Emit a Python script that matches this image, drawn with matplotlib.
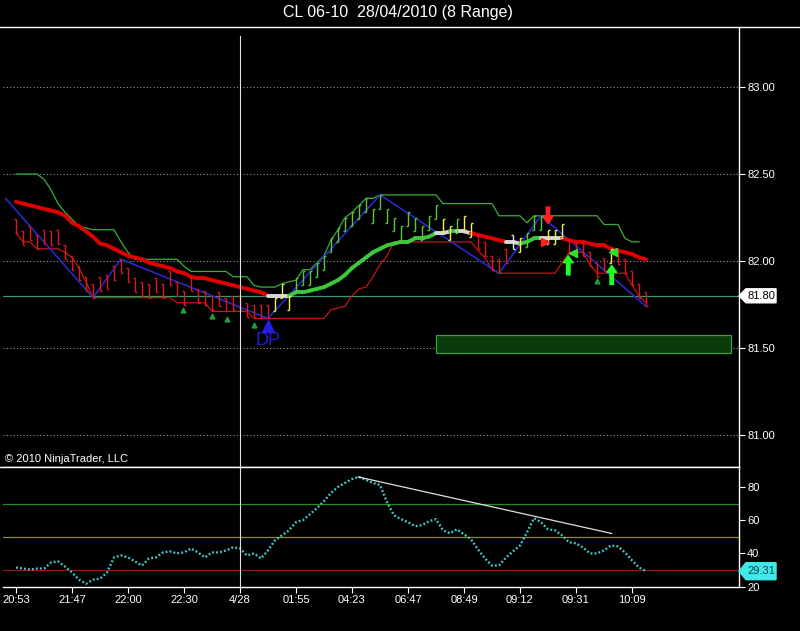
import numpy as np
import matplotlib
matplotlib.use("Agg")
import matplotlib.pyplot as plt
import matplotlib.transforms as mtrans
from matplotlib.collections import LineCollection
from matplotlib.patches import Polygon, Rectangle
from matplotlib.lines import Line2D

plt.rcParams['font.family'] = ['Liberation Sans', 'DejaVu Sans']

title = "CL 06-10  28/04/2010 (8 Range)"
bar_range = 0.08  # 8 tick range bars

# bar highs, low = high - range
bar_highs = [82.24, 82.17, 82.20, 82.15, 82.18, 82.17, 82.18, 82.09, 82.03, 81.97,
             81.91, 81.87, 81.91, 81.92, 81.97, 82.01, 81.96, 81.90, 81.88, 81.87,
             81.90, 81.87, 81.94, 81.88, 81.83, 81.91, 81.84, 81.83, 81.80, 81.82,
             81.79, 81.80, 81.80, 81.76, 81.75, 81.75, 81.75, 81.79, 81.87, 81.80,
             81.90, 81.94, 81.94, 81.99, 82.03, 82.13, 82.19, 82.25, 82.28, 82.32,
             82.36, 82.30, 82.38, 82.30, 82.25, 82.20, 82.28, 82.25, 82.20, 82.26,
             82.32, 82.24, 82.20, 82.24, 82.26, 82.22, 82.15, 82.11, 82.03, 82.01,
             82.07, 82.15, 82.13, 82.16, 82.26, 82.26, 82.18, 82.18, 82.21, 82.12,
             82.11, 82.11, 82.05, 81.99, 82.02, 82.07, 82.06, 82.01, 81.94, 81.87,
             81.82]
bar_colors = "r" * 37 + "yyy" + "g" * 21 + "yygyy" + "rrrrr" + "wy" + "ggg" + "yyy" + "r" * 6 + "y" + "r" * 5

ma_values = [82.34, 82.33, 82.32, 82.31, 82.30, 82.29, 82.28, 82.26, 82.22, 82.20,
             82.17, 82.14, 82.10, 82.09, 82.07, 82.05, 82.03, 82.02, 82.01, 81.99,
             81.98, 81.97, 81.96, 81.94, 81.93, 81.91, 81.90, 81.90, 81.89, 81.88,
             81.87, 81.86, 81.85, 81.84, 81.83, 81.82, 81.80, 81.80, 81.80, 81.80,
             81.82, 81.82, 81.83, 81.84, 81.85, 81.87, 81.89, 81.92, 81.96, 81.99,
             82.02, 82.05, 82.07, 82.09, 82.10, 82.11, 82.11, 82.13, 82.13, 82.14,
             82.16, 82.16, 82.17, 82.17, 82.17, 82.16, 82.15, 82.14, 82.13, 82.12,
             82.11, 82.11, 82.10, 82.11, 82.13, 82.13, 82.13, 82.13, 82.13, 82.12,
             82.11, 82.11, 82.10, 82.09, 82.09, 82.07, 82.06, 82.05, 82.04, 82.02,
             82.01]
ma_colors = "r" * 37 + "www" + "g" * 21 + "ww" + "g" + "ww" + "r" * 5 + "ww" + "ggg" + "www" + "r" * 12

upper_channel = ([82.50] * 4 + [82.47, 82.41, 82.33, 82.28, 82.24, 82.20, 82.19] + [82.18] * 4
                 + [82.11, 82.05] + [82.01] * 7 + [81.97] + [81.94] * 6 + [81.91] * 3 + [81.86]
                 + [81.85] * 3 + [81.87, 81.88, 81.89, 81.95, 81.95, 81.99, 82.03, 82.12, 82.18,
                 82.25, 82.28, 82.32, 82.36, 82.36] + [82.38] * 9 + [82.33] * 8 + [82.26] * 4
                 + [82.22] + [82.26] * 10 + [82.21] * 3 + [82.13, 82.11, 82.11, np.nan])
lower_channel = ([82.16, 82.11, 82.11] + [82.07] * 4 + [82.05, 82.02, 81.96, 81.88] + [81.79] * 12
                 + [81.76] * 5 + [81.71] * 6 + [81.67] * 11 + [81.72, 81.73, 81.74, 81.80, 81.84,
                 81.85, 81.91, 81.98, 82.03] + [82.11] * 12 + [82.06, 82.02, 81.95] + [81.93] * 9
                 + [81.99] + [82.05] * 3 + [81.98] + [81.93] * 5 + [81.86, 81.80, 81.76])

zigzag_idx = [-1.5, 11, 15, 36, 52, 69, 75, 90]
zigzag_px = [82.36, 81.79, 82.01, 81.67, 82.38, 81.93, 82.26, 81.74]

osc_values = [31.5, 30.9, 30.3, 30.9, 30.9, 34.5, 35.2, 32.1, 28.5, 24.2,
              21.8, 24.2, 24.8, 28.5, 37.6, 38.8, 37.6, 35.2, 32.7, 37.0,
              37.6, 40.6, 41.2, 40.0, 40.6, 43.0, 40.6, 37.6, 40.6, 40.6,
              41.8, 43.6, 43.0, 38.8, 40.0, 37.0, 41.8, 47.9, 50.9, 53.9,
              58.8, 60.0, 63.6, 67.3, 71.5, 76.4, 80.0, 82.4, 84.8, 86.1,
              84.2, 82.4, 81.2, 70.9, 63.0, 60.6, 58.8, 56.4, 57.0, 59.4,
              60.6, 53.9, 52.1, 54.5, 51.5, 48.5, 42.4, 37.0, 32.7, 32.7,
              37.6, 41.2, 44.8, 52.7, 61.2, 58.8, 54.5, 53.9, 50.9, 46.7,
              46.1, 43.6, 40.0, 40.0, 41.8, 44.8, 44.2, 40.6, 35.8, 31.5,
              29.31]
osc_trend_idx = [48.9, 85.1]
osc_trend_val = [86.0, 52.0]
osc_levels = [70, 50, 30]

time_ticks = [0, 8, 16, 24, 32, 40, 48, 56, 64, 72, 80, 88]
time_labels = ["20:53", "21:47", "22:00", "22:30", "4/28", "01:55", "04:23",
               "06:47", "08:49", "09:12", "09:31", "10:09"]

price_ticks = [81.00, 81.50, 82.00, 82.50, 83.00]
osc_ticks = [20, 40, 60, 80]
hline_price = 81.80
cursor_bar = 32
zone = (60, 102.1, 81.47, 81.575)

small_tri_idx = [23.9, 28, 30.1, 34, 83]
small_tri_px = [81.72, 81.685, 81.667, 81.63, 81.885]

col = {"r": "#e01818", "g": "#5cc83c", "y": "#f0f060", "w": "#e8e8e8"}
ma_col = {"r": "#e00000", "g": "#3cc83c", "w": "#d8d8d8"}

fig = plt.figure(figsize=(8, 6.31), dpi=100, facecolor="black")
ax = fig.add_axes([3 / 800, 1 - 467 / 631, 736 / 800, 440 / 631], facecolor="black")
ax2 = fig.add_axes([3 / 800, 1 - 587 / 631, 736 / 800, 120 / 631], facecolor="black")

xlim = (-13 / 7, 723 / 7)
ax.set_xlim(*xlim)
ax2.set_xlim(*xlim)
ax.set_ylim(80.816, 83.345)
ax2.set_ylim(19.8, 92.0)

n = len(bar_highs)
idx = np.arange(n)
highs = np.array(bar_highs)
lows = highs - bar_range

# grid + lines
for p in price_ticks:
    ax.axhline(p, color="#9a9a9a", lw=0.8, ls=(0, (1, 2)), zorder=1)
ax.axhline(hline_price, color="#3d9970", lw=0.9, zorder=1)
ax.add_patch(Rectangle((zone[0], zone[2]), zone[1] - zone[0], zone[3] - zone[2],
                       facecolor="#0b3a0b", edgecolor="#3ca03c", lw=0.9, zorder=1))

# channels
ax.plot(idx, upper_channel, color="#38b038", lw=0.9, zorder=2)
ax.plot(idx, lower_channel, color="#c81414", lw=0.9, zorder=2)
ax.plot(zigzag_idx, zigzag_px, color="#2828c8", lw=1.2, zorder=2)

# moving average, colored by trend
pts = np.column_stack([idx, ma_values])
segs = [pts[i - 1:i + 1] for i in range(1, n)]
lc = LineCollection(segs, colors=[ma_col[c] for c in ma_colors[1:]], linewidths=2.8,
                    capstyle="round", zorder=3)
ax.add_collection(lc)

# range bars
for i in range(n):
    c = col[bar_colors[i]]
    up = bar_colors[i] in "gy"
    o = lows[i] if up else highs[i]
    cl = highs[i] if up else lows[i]
    ax.vlines(i, lows[i], highs[i], color=c, lw=1.0, zorder=4)
    ax.hlines(o, i - 0.35, i, color=c, lw=1.0, zorder=4)
    ax.hlines(cl, i, i + 0.35, color=c, lw=1.0, zorder=4)

# markers
ax.plot(small_tri_idx, small_tri_px, ls="none", marker="^", color="#1f9a3f", ms=3.5, zorder=5)
ax.plot([36], [81.627], ls="none", marker="^", color="#2020e0", ms=8, zorder=5)
ax.text(36, 81.545, "DP", color="#2020d0", fontsize=13, ha="center", va="center", zorder=5)
ax.annotate("", xy=(76, 82.215), xytext=(76, 82.31),
            arrowprops=dict(facecolor="#ff2020", edgecolor="#ff2020", width=2.5, headwidth=7, headlength=5))
ax.annotate("", xy=(78.9, 82.03), xytext=(78.9, 81.92),
            arrowprops=dict(facecolor="#20ff20", edgecolor="#20ff20", width=2.5, headwidth=7, headlength=5))
ax.annotate("", xy=(85.1, 81.975), xytext=(85.1, 81.865),
            arrowprops=dict(facecolor="#20ff20", edgecolor="#20ff20", width=2.5, headwidth=7, headlength=5))
ax.plot([79.6, 85.3], [82.046, 82.05], ls="none", marker="<", color="#30e030", ms=6, zorder=5)
ax.plot([75.6], [82.11], ls="none", marker=">", color="#ff2020", ms=6, zorder=5)

ax.text(0.003, 0.006, "\u00a9 2010 NinjaTrader, LLC", transform=ax.transAxes, color="white",
        fontsize=8, ha="left", va="bottom")

# oscillator panel
ax2.axhline(osc_levels[0], color="#2a8a2a", lw=0.9)
ax2.axhline(osc_levels[1], color="#8c8c2a", lw=0.9)
ax2.axhline(osc_levels[2], color="#8c1a1a", lw=0.9)
ax2.plot(idx, osc_values, color="#40c8c8", lw=1.7, ls=(0, (0.8, 0.9)), zorder=3)
ax2.plot(osc_trend_idx, osc_trend_val, color="#e0e0e0", lw=0.9, zorder=3)

for a in (ax, ax2):
    a.axvline(cursor_bar, ymax=0.98 if a is ax else 1, color="#e0e0e0", lw=0.8, zorder=6)
    for s in ("left", "top"):
        a.spines[s].set_visible(False)
    for s in ("right", "bottom"):
        a.spines[s].set_color("white")
        a.spines[s].set_linewidth(1.0)
    a.yaxis.tick_right()
    a.tick_params(axis="y", colors="white", labelcolor="white", labelsize=8, length=4.3,
                  width=0.8, pad=1.5)

ax.set_yticks(price_ticks)
ax.set_yticklabels(["%.2f" % p for p in price_ticks])
ax.set_xticks([])
ax2.set_yticks(osc_ticks)
ax2.set_yticklabels([str(v) for v in osc_ticks])
ax2.set_xticks(time_ticks)
ax2.set_xticklabels(time_labels)
ax2.tick_params(axis="x", colors="white", labelcolor="white", labelsize=8, length=4, width=0.8, pad=2)

# last value flags on the right axis
bt = mtrans.blended_transform_factory(ax.transAxes, ax.transData)
ph = 7 / 174
ax.add_patch(Polygon([(1.0, hline_price), (1.0095, hline_price + ph), (1.0503, hline_price + ph),
                      (1.0503, hline_price - ph), (1.0095, hline_price - ph)],
                     closed=True, transform=bt, facecolor="white", edgecolor="white",
                     clip_on=False, zorder=7))
ax.text(1.030, hline_price, "%.2f" % hline_price, transform=bt, color="black", fontsize=8,
        ha="center", va="center", clip_on=False, zorder=8)

bt2 = mtrans.blended_transform_factory(ax2.transAxes, ax2.transData)
last = osc_values[-1]
oh = 8.5 / 1.66
ax2.add_patch(Polygon([(1.0, last), (1.0095, last + oh), (1.0503, last + oh),
                       (1.0503, last - oh), (1.0095, last - oh)],
                      closed=True, transform=bt2, facecolor="#40e8e8", edgecolor="#40e8e8",
                      clip_on=False, zorder=7))
ax2.text(1.030, last, "%.2f" % last, transform=bt2, color="#004848", fontsize=8,
         ha="center", va="center", clip_on=False, zorder=8)

# frame lines: top rule and panel separator
fig.add_artist(Line2D([0, 1], [1 - 27 / 631] * 2, color="white", lw=1.0, transform=fig.transFigure))
fig.add_artist(Line2D([0, 739 / 800], [1 - 467 / 631] * 2, color="white", lw=1.0,
                      transform=fig.transFigure))
fig.text(0.497, 1 - 13 / 631, title, color="white", fontsize=11.5, ha="center", va="center")

fig.savefig("out.png", dpi=100, facecolor="black")
